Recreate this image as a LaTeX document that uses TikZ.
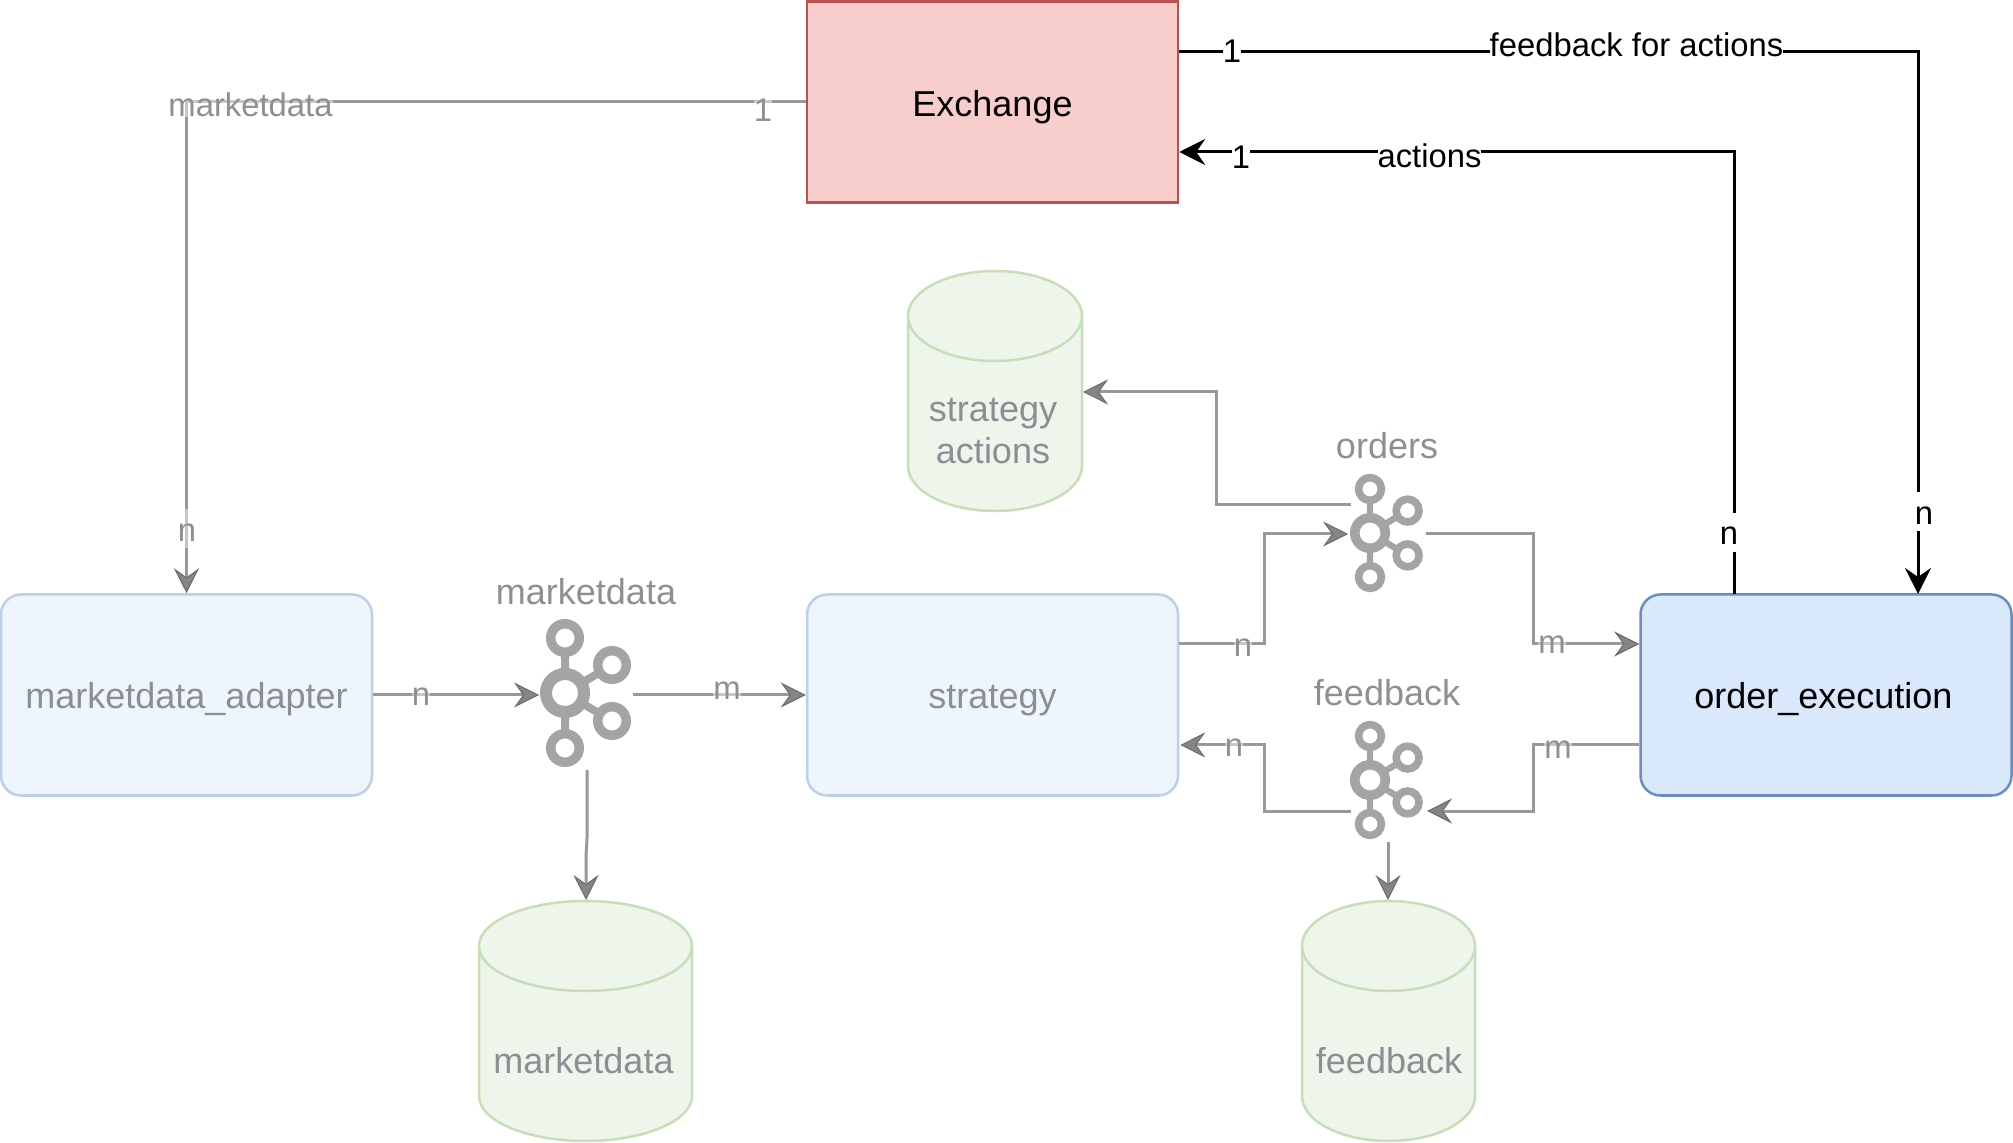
\documentclass[tikz,border=0pt]{standalone}
\usepackage{fontspec}
\setmainfont{Liberation Sans}
\usetikzlibrary{arrows.meta,calc}
\definecolor{greyline}{HTML}{999999}
\definecolor{greytext}{HTML}{8F8F8F}
\definecolor{boxtext}{HTML}{8A8F94}
\definecolor{paleblue}{HTML}{EEF5FD}
\definecolor{palebluedraw}{HTML}{BDD0EA}
\definecolor{palegreen}{HTML}{EEF5EA}
\definecolor{palegreendraw}{HTML}{C6DFB8}
\definecolor{kafkagrey}{HTML}{A5A3A3}
\tikzset{
  x=0.5pt,y=-0.5pt,
  procbox/.style={draw=palebluedraw,fill=paleblue,line width=1.25pt,rounded corners=10pt,
    minimum width=185.5pt,minimum height=100.5pt,inner sep=0pt,text=boxtext,
    text height=13.5pt,text depth=0pt,font=\fontsize{18}{21}\selectfont},
  greyflow/.style={draw=greyline,line width=1.5pt,-{Stealth[length=12.5pt,width=12.5pt,inset=4.5pt,fill=black!48,color=black!58,line width=.5pt]}},
  blackflow/.style={draw=black,line width=1.5pt,-{Stealth[length=13pt,width=13pt,inset=4.5pt]}},
  greylabel/.style={fill=white,fill opacity=.45,text opacity=1,text=greytext,inner sep=0pt,font=\fontsize{16.4}{19}\selectfont},
  blacklabel/.style={fill=white,text=black,inner sep=0pt,font=\fontsize{16.4}{19}\selectfont},
  talllabel/.style={text height=16pt,text depth=3.5pt},
  topiclabel/.style={text=greytext,inner sep=0pt,font=\fontsize{18}{21}\selectfont},
  storetext/.style={text=boxtext,inner sep=0pt,align=center,font=\fontsize{18}{21}\selectfont},
  iconbox/.style={minimum width=#1,minimum height=#1,inner sep=0pt},
}
% cylinder: left, right, top, bottom in pixels (y axis points down)
\newcommand{\storedrum}[4]{%
  \path[draw=palegreendraw,fill=palegreen,line width=1.25pt]
    (#1,#3+45) arc[start angle=180,end angle=360,x radius={(#2-#1)/2},y radius=45]
    -- (#2,#4-45) arc[start angle=0,end angle=180,x radius={(#2-#1)/2},y radius=45] -- cycle;
  \path[draw=palegreendraw,line width=1.25pt]
    (#1,#3+45) arc[start angle=180,end angle=0,x radius={(#2-#1)/2},y radius=45];
}
% kafka icon: hub x, hub y, scale
\newcommand{\kafkaicon}[3]{%
  \begin{scope}[shift={(#1,#2)},scale=#3,draw=kafkagrey]
    \draw[line width=#3*4pt] (0,-55) -- (0,55) (0,0) -- (47,-28) (0,0) -- (47,28);
    \draw[line width=#3*6pt,fill=white] (0,0) circle[radius=19];
    \foreach \px/\py in {0/-55,47/-28,47/28,0/55}
      \draw[line width=#3*4.75pt,fill=white] (\px,\py) circle[radius=14.25];
  \end{scope}%
}
\begin{document}
\begin{tikzpicture}
\useasboundingbox (0,0) rectangle (2013,1143);

% boxes
\node[draw={rgb,255:red,184;green,84;blue,80},fill={rgb,255:red,248;green,206;blue,204},line width=1.25pt,
  minimum width=185.5pt,minimum height=100.5pt,inner sep=0pt,text height=14.5pt,text depth=0pt,font=\fontsize{18}{21}\selectfont] (exch) at (992.5,102) {Exchange};
\node[procbox] (adapter) at (186.5,695) {marketdata\_adapter};
\node[procbox] (strat) at (992.5,695) {strategy};
\node[procbox,draw={rgb,255:red,108;green,142;blue,191},fill={rgb,255:red,218;green,232;blue,252},text=black] (oexec) at (1826,695) {order\_execution\hspace{2.6pt}\null};

% stores
\storedrum{908}{1082}{271}{511}
\storedrum{479}{692}{901}{1141}
\storedrum{1302}{1475}{901}{1141}
\node[storetext] (storeA) at (993,431) {strategy\\actions};
\node[storetext] (storeM) at (583.5,1061) {marketdata};
\node[storetext] (storeF) at (1389,1061) {feedback};
\coordinate (storeAport) at (1083,392);
\coordinate (storeMport) at (586,900);
\coordinate (storeFport) at (1388,900);

% topics
\kafkaicon{565}{693}{1}
\kafkaicon{1370}{533}{.8}
\kafkaicon{1370}{780}{.8}
\node[iconbox=68pt] (kM) at (586,693) {};
\node[iconbox=55pt] (kO) at (1387,533) {};
\node[iconbox=55pt] (kF) at (1387,780) {};
\node[topiclabel] (tM) at (586,592) {marketdata};
\node[topiclabel] (tO) at (1387,446) {orders};
\node[topiclabel] (tF) at (1387,692.5) {feedback};

% attachment points
\coordinate (exOut) at ($(exch.east)+(0,-50)$);
\coordinate (exIn) at ($(exch.east)+(0,50)$);
\coordinate (oeA) at (1918,594);
\coordinate (oeB) at (1734,594);
\coordinate (stOut) at ($(strat.east)+(0,-51)$);
\coordinate (stIn) at ($(strat.east)+(1,50)$);
\coordinate (oeIn) at ($(oexec.west)+(0,-51)$);
\coordinate (oeOut) at ($(oexec.west)+(0,50)$);
\coordinate (kMin) at (539,695);
\coordinate (kMout) at (633,695);
\coordinate (kMdown) at (587,770);
\coordinate (kOin) at (1348,534);
\coordinate (kOout) at (1426,534);
\coordinate (kOup) at (1351,505);
\coordinate (kFin) at (1427,811);
\coordinate (kFout) at (1351,811);
\coordinate (kFdown) at (1388,842);

% grey connectors
\draw[greyflow] (exch.west) -- (186.5,102) -- (adapter.north);
\draw[greyflow] (adapter.east) -- (kMin);
\draw[greyflow] (kMout) -- (strat.west);
\draw[greyflow,rounded corners=1pt] (kMdown) -- (587,840) -- (586,855) -- (storeMport);
\draw[greyflow] (stOut) -- (1264,644) -- (1264,534) -- (kOin);
\draw[greyflow] (kOout) -- (1533,534) -- (1533,644) -- (oeIn);
\draw[greyflow] (kOup) -- (1216,505) -- (1216,392) -- (storeAport);
\draw[greyflow] (oeOut) -- (1533,745) -- (1533,811) -- (kFin);
\draw[greyflow] (kFout) -- (1264,811) -- (1264,745) -- (stIn);
\draw[greyflow] (kFdown) -- (storeFport);

% black connectors
\draw[blackflow] (exOut) -- (1918,52) -- (oeA);
\draw[blackflow] (oeB) -- (1734,152) -- (exIn);

% grey labels
\node[greylabel] (l1) at (250.5,104.5) {marketdata};
\node[greylabel] (l2) at (763,110) {1};
\node[greylabel,talllabel] (l3) at (187,529) {n};
\node[greylabel] (l4) at (421,697) {n};
\node[greylabel] (l5) at (727,691) {m};
\node[greylabel] (l6) at (1243,648) {n};
\node[greylabel] (l7) at (1552,645) {m};
\node[greylabel] (l8) at (1234,748) {n};
\node[greylabel] (l9) at (1558,750) {m};

% black labels
\node[blacklabel] (b1) at (1232,51) {1};
\node[blacklabel] (b2) at (1636.5,45) {feedback for actions};
\node[blacklabel,talllabel] (b3) at (1924,512) {n};
\node[blacklabel] (b4) at (1241,157) {1};
\node[blacklabel] (b5) at (1429.5,156) {actions};
\node[blacklabel,talllabel] (b6) at (1729,532.5) {n};
\end{tikzpicture}
\end{document}
